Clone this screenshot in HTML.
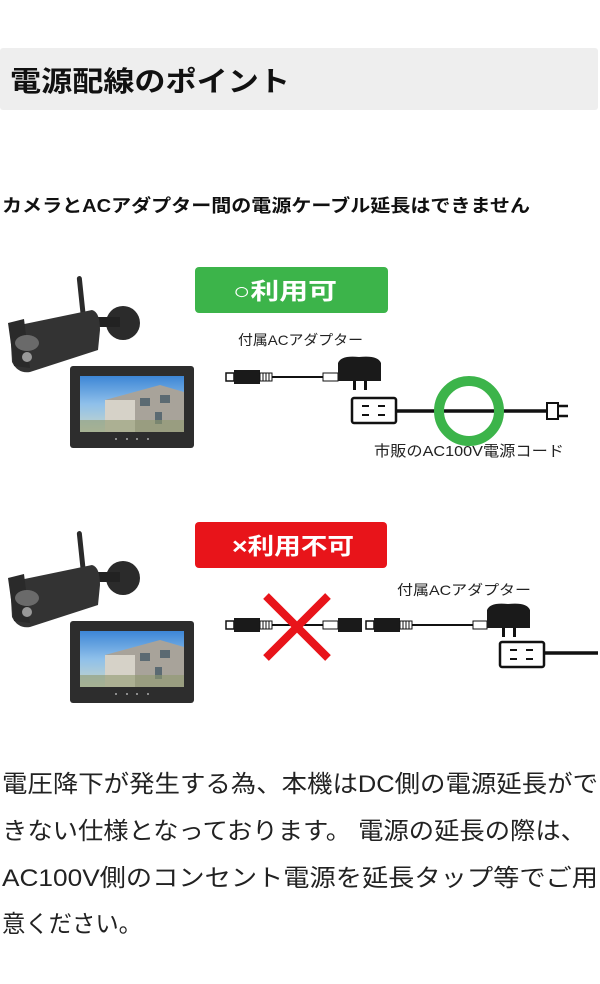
<!DOCTYPE html>
<html><head><meta charset="utf-8"><style>
html,body{margin:0;padding:0;background:#fff;width:600px;height:984px;overflow:hidden}
svg{display:block}
text{font-family:"Liberation Sans","Noto Sans CJK JP",sans-serif}
</style></head><body>
<svg width="600" height="984" viewBox="0 0 600 984" xmlns="http://www.w3.org/2000/svg">
<defs>
<linearGradient id="sky" x1="0" y1="0" x2="0" y2="1"><stop offset="0" stop-color="#3d86d6"/><stop offset="0.5" stop-color="#8fc0ea"/><stop offset="1" stop-color="#c9d6c8"/></linearGradient>
<g id="devices">
  <rect x="79" y="276" width="5" height="46" rx="2.5" fill="#2a2a2a" transform="rotate(-6 81 299)"/>
  <circle cx="123" cy="323" r="17" fill="#2b2b2b"/>
  <rect x="96" y="317" width="24" height="10" fill="#222"/>
  <path d="M10 327 L92 310 Q100 312 100 330 L98 350 L30 372 Q18 374 12 362 Z" fill="#333"/>
  <path d="M8 323 L24 319 L30 368 L14 366 Z" fill="#2a2a2a"/>
  <ellipse cx="27" cy="343" rx="12" ry="8" fill="#6a6a6a"/>
  <circle cx="27" cy="357" r="5" fill="#999"/>
  <rect x="70" y="366" width="124" height="82" rx="3" fill="#2d2d2d"/>
  <rect x="80" y="376" width="104" height="56" fill="url(#sky)"/>
  <path d="M105 400 L160 385 L184 392 L184 432 L105 432 Z" fill="#a8a39a"/>
  <rect x="105" y="400" width="30" height="32" fill="#d6d2c8"/>
  <rect x="140" y="398" width="10" height="8" fill="#5b6a72"/>
  <rect x="160" y="395" width="10" height="8" fill="#5b6a72"/>
  <rect x="155" y="412" width="7" height="12" fill="#5b6a72"/>
  <rect x="80" y="420" width="104" height="12" fill="#8f9a70" opacity="0.6"/>
  <circle cx="116" cy="439" r="1" fill="#aaa"/><circle cx="127" cy="439" r="1" fill="#aaa"/><circle cx="137" cy="439" r="1" fill="#aaa"/><circle cx="148" cy="439" r="1" fill="#aaa"/>
</g>
<g id="conn"><rect x="0" y="0" width="8" height="8" fill="#fff" stroke="#111" stroke-width="1.5"/><rect x="8" y="-3" width="26" height="14" fill="#1a1a1a"/><rect x="34" y="0" width="12" height="8" fill="#fff" stroke="#111" stroke-width="1"/><path d="M37 0v8M40 0v8M43 0v8" stroke="#111"/></g>
<g id="adapter"><path d="M0 6 Q3 -2 21 0 Q40 -2 43 6 L43 24 L0 24 Z" fill="#1a1a1a"/><rect x="15" y="24" width="3" height="9" fill="#111"/><rect x="26" y="24" width="3" height="9" fill="#111"/></g>
<g id="outlet"><rect x="0" y="0" width="44" height="25" rx="2" fill="#fff" stroke="#111" stroke-width="2.5"/><path d="M10 8h7M26 8h7M10 17h7M26 17h7" stroke="#111" stroke-width="2"/></g>
</defs>

<rect x="0" y="48" width="598" height="62" rx="3" fill="#eeeeee"/>
<text x="10" y="91" font-size="28" font-weight="bold" fill="#111" textLength="280" lengthAdjust="spacingAndGlyphs">電源配線のポイント</text>
<text x="2" y="212" font-size="18" font-weight="bold" fill="#111" textLength="528" lengthAdjust="spacingAndGlyphs">カメラとACアダプター間の電源ケーブル延長はできません</text>

<!-- OK -->
<use href="#devices"/>
<rect x="195" y="267" width="193" height="46" rx="4" fill="#3cb44a"/>
<text x="233" y="299" font-size="23" font-weight="bold" fill="#fff" textLength="104" lengthAdjust="spacingAndGlyphs">○利用可</text>
<text x="238" y="345" font-size="14" fill="#222" textLength="125" lengthAdjust="spacingAndGlyphs">付属ACアダプター</text>
<use href="#conn" x="226" y="373"/>
<line x1="272" y1="377" x2="323" y2="377" stroke="#111" stroke-width="2"/>
<rect x="323" y="373" width="15" height="8" fill="#fff" stroke="#111" stroke-width="1"/>
<use href="#adapter" x="338" y="357"/>
<use href="#outlet" x="352" y="398"/>
<line x1="396" y1="411" x2="547" y2="411" stroke="#111" stroke-width="3.5"/>
<circle cx="469" cy="411" r="30" fill="none" stroke="#3cb44a" stroke-width="10"/>
<path d="M547 403 h11 v16 h-11 Z" fill="#fff" stroke="#111" stroke-width="2"/>
<path d="M558 406h10M558 416h10" stroke="#111" stroke-width="2.5"/>
<text x="374" y="456" font-size="15" fill="#222" textLength="190" lengthAdjust="spacingAndGlyphs">市販のAC100V電源コード</text>

<!-- NG -->
<use href="#devices" y="255"/>
<rect x="195" y="522" width="192" height="46" rx="4" fill="#e8141a"/>
<text x="232" y="554" font-size="23" font-weight="bold" fill="#fff" textLength="122" lengthAdjust="spacingAndGlyphs">×利用不可</text>
<text x="397" y="595" font-size="14" fill="#222" textLength="134" lengthAdjust="spacingAndGlyphs">付属ACアダプター</text>
<use href="#conn" x="226" y="621"/>
<line x1="272" y1="625" x2="323" y2="625" stroke="#111" stroke-width="2"/>
<rect x="323" y="621" width="15" height="8" fill="#fff" stroke="#111" stroke-width="1"/>
<rect x="338" y="618" width="24" height="14" fill="#1a1a1a"/>
<use href="#conn" x="366" y="621"/>
<line x1="412" y1="625" x2="473" y2="625" stroke="#111" stroke-width="2"/>
<rect x="473" y="621" width="14" height="8" fill="#fff" stroke="#111" stroke-width="1"/>
<use href="#adapter" x="487" y="604"/>
<use href="#outlet" x="500" y="642"/>
<line x1="544" y1="653" x2="598" y2="653" stroke="#111" stroke-width="3.5"/>
<path d="M266 596 L328 658 M328 596 L266 658" stroke="#e8141a" stroke-width="8"/>

<g font-size="24" fill="#222">
<text x="2" y="792" textLength="596" lengthAdjust="spacingAndGlyphs">電圧降下が発生する為、本機はDC側の電源延長がで</text>
<text x="2" y="839" textLength="584" lengthAdjust="spacingAndGlyphs">きない仕様となっております。 電源の延長の際は、</text>
<text x="2" y="886" textLength="596" lengthAdjust="spacingAndGlyphs">AC100V側のコンセント電源を延長タップ等でご用</text>
<text x="2" y="932" textLength="140" lengthAdjust="spacingAndGlyphs">意ください。</text>
</g>
</svg>
</body></html>
